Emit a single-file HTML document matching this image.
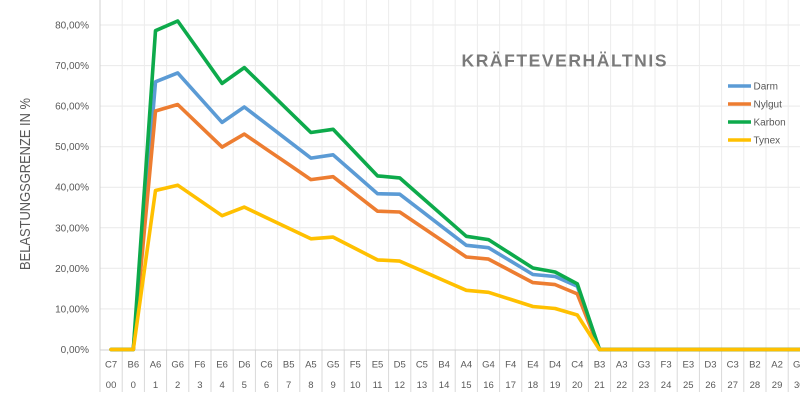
<!DOCTYPE html>
<html><head><meta charset="utf-8"><style>
html,body{margin:0;padding:0;background:#fff;}
svg{display:block;}
text{font-family:"Liberation Sans",Arial,sans-serif;fill:#595959;}
</style></head><body>
<svg width="800" height="403" viewBox="0 0 800 403" xmlns="http://www.w3.org/2000/svg">
<rect width="800" height="403" fill="#fff"/>
<g stroke="#e9e9e9" stroke-width="1">
<line x1="100" y1="308.9" x2="800" y2="308.9"/>
<line x1="100" y1="268.3" x2="800" y2="268.3"/>
<line x1="100" y1="227.8" x2="800" y2="227.8"/>
<line x1="100" y1="187.2" x2="800" y2="187.2"/>
<line x1="100" y1="146.7" x2="800" y2="146.7"/>
<line x1="100" y1="106.1" x2="800" y2="106.1"/>
<line x1="100" y1="65.6" x2="800" y2="65.6"/>
<line x1="100" y1="25" x2="800" y2="25"/>
</g>
<g stroke="#ececec" stroke-width="1">
<line x1="122.2" y1="0" x2="122.2" y2="350"/><line x1="144.4" y1="0" x2="144.4" y2="350"/><line x1="166.6" y1="0" x2="166.6" y2="350"/><line x1="188.8" y1="0" x2="188.8" y2="350"/><line x1="211" y1="0" x2="211" y2="350"/><line x1="233.2" y1="0" x2="233.2" y2="350"/><line x1="255.4" y1="0" x2="255.4" y2="350"/><line x1="277.6" y1="0" x2="277.6" y2="350"/><line x1="299.8" y1="0" x2="299.8" y2="350"/><line x1="322" y1="0" x2="322" y2="350"/><line x1="344.2" y1="0" x2="344.2" y2="350"/><line x1="366.4" y1="0" x2="366.4" y2="350"/><line x1="388.6" y1="0" x2="388.6" y2="350"/><line x1="410.8" y1="0" x2="410.8" y2="350"/><line x1="433" y1="0" x2="433" y2="350"/><line x1="455.2" y1="0" x2="455.2" y2="350"/><line x1="477.4" y1="0" x2="477.4" y2="350"/><line x1="499.6" y1="0" x2="499.6" y2="350"/><line x1="521.8" y1="0" x2="521.8" y2="350"/><line x1="544" y1="0" x2="544" y2="350"/><line x1="566.2" y1="0" x2="566.2" y2="350"/><line x1="588.4" y1="0" x2="588.4" y2="350"/><line x1="610.6" y1="0" x2="610.6" y2="350"/><line x1="632.8" y1="0" x2="632.8" y2="350"/><line x1="655" y1="0" x2="655" y2="350"/><line x1="677.2" y1="0" x2="677.2" y2="350"/><line x1="699.4" y1="0" x2="699.4" y2="350"/><line x1="721.6" y1="0" x2="721.6" y2="350"/><line x1="743.8" y1="0" x2="743.8" y2="350"/><line x1="766" y1="0" x2="766" y2="350"/><line x1="788.2" y1="0" x2="788.2" y2="350"/>
</g>
<g stroke="#d9d9d9" stroke-width="1">
<line x1="100" y1="350" x2="100" y2="392"/><line x1="122.2" y1="350" x2="122.2" y2="392"/><line x1="144.4" y1="350" x2="144.4" y2="392"/><line x1="166.6" y1="350" x2="166.6" y2="392"/><line x1="188.8" y1="350" x2="188.8" y2="392"/><line x1="211" y1="350" x2="211" y2="392"/><line x1="233.2" y1="350" x2="233.2" y2="392"/><line x1="255.4" y1="350" x2="255.4" y2="392"/><line x1="277.6" y1="350" x2="277.6" y2="392"/><line x1="299.8" y1="350" x2="299.8" y2="392"/><line x1="322" y1="350" x2="322" y2="392"/><line x1="344.2" y1="350" x2="344.2" y2="392"/><line x1="366.4" y1="350" x2="366.4" y2="392"/><line x1="388.6" y1="350" x2="388.6" y2="392"/><line x1="410.8" y1="350" x2="410.8" y2="392"/><line x1="433" y1="350" x2="433" y2="392"/><line x1="455.2" y1="350" x2="455.2" y2="392"/><line x1="477.4" y1="350" x2="477.4" y2="392"/><line x1="499.6" y1="350" x2="499.6" y2="392"/><line x1="521.8" y1="350" x2="521.8" y2="392"/><line x1="544" y1="350" x2="544" y2="392"/><line x1="566.2" y1="350" x2="566.2" y2="392"/><line x1="588.4" y1="350" x2="588.4" y2="392"/><line x1="610.6" y1="350" x2="610.6" y2="392"/><line x1="632.8" y1="350" x2="632.8" y2="392"/><line x1="655" y1="350" x2="655" y2="392"/><line x1="677.2" y1="350" x2="677.2" y2="392"/><line x1="699.4" y1="350" x2="699.4" y2="392"/><line x1="721.6" y1="350" x2="721.6" y2="392"/><line x1="743.8" y1="350" x2="743.8" y2="392"/><line x1="766" y1="350" x2="766" y2="392"/><line x1="788.2" y1="350" x2="788.2" y2="392"/>
</g>
<line x1="100" y1="0" x2="100" y2="350" stroke="#d0d0d0" stroke-width="1"/>
<line x1="100" y1="350" x2="800" y2="350" stroke="#d0d0d0" stroke-width="1"/>

<g font-size="10" text-anchor="end">
<text x="89" y="353">0,00%</text>
<text x="89" y="312.4">10,00%</text>
<text x="89" y="271.8">20,00%</text>
<text x="89" y="231.3">30,00%</text>
<text x="89" y="190.7">40,00%</text>
<text x="89" y="150.2">50,00%</text>
<text x="89" y="109.6">60,00%</text>
<text x="89" y="69.1">70,00%</text>
<text x="89" y="28.5">80,00%</text>
</g>

<text transform="translate(30,184) rotate(-90)" font-size="15" text-anchor="middle" textLength="172" lengthAdjust="spacingAndGlyphs">BELASTUNGSGRENZE IN %</text>

<g font-size="9.5" text-anchor="middle">
<text x="111.1" y="367.5">C7</text><text x="133.3" y="367.5">B6</text><text x="155.5" y="367.5">A6</text><text x="177.7" y="367.5">G6</text><text x="199.9" y="367.5">F6</text><text x="222.1" y="367.5">E6</text><text x="244.3" y="367.5">D6</text><text x="266.5" y="367.5">C6</text><text x="288.7" y="367.5">B5</text><text x="310.9" y="367.5">A5</text><text x="333.1" y="367.5">G5</text><text x="355.3" y="367.5">F5</text><text x="377.5" y="367.5">E5</text><text x="399.7" y="367.5">D5</text><text x="421.9" y="367.5">C5</text><text x="444.1" y="367.5">B4</text><text x="466.3" y="367.5">A4</text><text x="488.5" y="367.5">G4</text><text x="510.7" y="367.5">F4</text><text x="532.9" y="367.5">E4</text><text x="555.1" y="367.5">D4</text><text x="577.3" y="367.5">C4</text><text x="599.5" y="367.5">B3</text><text x="621.7" y="367.5">A3</text><text x="643.9" y="367.5">G3</text><text x="666.1" y="367.5">F3</text><text x="688.3" y="367.5">E3</text><text x="710.5" y="367.5">D3</text><text x="732.7" y="367.5">C3</text><text x="754.9" y="367.5">B2</text><text x="777.1" y="367.5">A2</text><text x="799.3" y="367.5">G2</text>
</g>
<g font-size="9.5" text-anchor="middle">
<text x="111.1" y="388">00</text><text x="133.3" y="388">0</text><text x="155.5" y="388">1</text><text x="177.7" y="388">2</text><text x="199.9" y="388">3</text><text x="222.1" y="388">4</text><text x="244.3" y="388">5</text><text x="266.5" y="388">6</text><text x="288.7" y="388">7</text><text x="310.9" y="388">8</text><text x="333.1" y="388">9</text><text x="355.3" y="388">10</text><text x="377.5" y="388">11</text><text x="399.7" y="388">12</text><text x="421.9" y="388">13</text><text x="444.1" y="388">14</text><text x="466.3" y="388">15</text><text x="488.5" y="388">16</text><text x="510.7" y="388">17</text><text x="532.9" y="388">18</text><text x="555.1" y="388">19</text><text x="577.3" y="388">20</text><text x="599.5" y="388">21</text><text x="621.7" y="388">22</text><text x="643.9" y="388">23</text><text x="666.1" y="388">24</text><text x="688.3" y="388">25</text><text x="710.5" y="388">26</text><text x="732.7" y="388">27</text><text x="754.9" y="388">28</text><text x="777.1" y="388">29</text><text x="799.3" y="388">30</text>
</g>

<g fill="none" stroke-width="3.6" stroke-linejoin="round" stroke-linecap="round">
<polyline stroke="#5B9BD5" points="111.1,349.5 133.3,349.5 155.5,81.8 177.7,72.9 199.9,97.65 222.1,122.4 244.3,107 266.5,124 288.7,141.1 310.9,158.1 333.1,154.8 355.3,174.25 377.5,193.7 399.7,194.2 421.9,211.2 444.1,228.3 466.3,245.3 488.5,247.7 510.7,261.1 532.9,274.5 555.1,276.5 577.3,286.2 599.5,349.5 799.3,349.5"/>
<polyline stroke="#ED7D31" points="111.1,349.5 133.3,349.5 155.5,111 177.7,104.5 199.9,125.8 222.1,147.1 244.3,134.1 266.5,149.3 288.7,164.4 310.9,179.6 333.1,176.7 355.3,193.95 377.5,211.2 399.7,212 421.9,227 444.1,242 466.3,257 488.5,259.1 510.7,270.85 532.9,282.6 555.1,284.6 577.3,293.9 599.5,349.5 799.3,349.5"/>
<polyline stroke="#0DAA4B" points="111.1,349.5 133.3,349.5 155.5,30.7 177.7,21 199.9,52.2 222.1,83.4 244.3,67.6 266.5,89.2 288.7,110.9 310.9,132.5 333.1,129.3 355.3,152.6 377.5,175.9 399.7,177.9 421.9,197.4 444.1,216.8 466.3,236.3 488.5,239.6 510.7,253.8 532.9,268 555.1,272 577.3,283.8 599.5,349.5 799.3,349.5"/>
<polyline stroke="#FFC000" points="111.1,349.5 133.3,349.5 155.5,190.5 177.7,185.2 199.9,200.45 222.1,215.7 244.3,207.1 266.5,217.7 288.7,228.2 310.9,238.8 333.1,237.1 355.3,248.5 377.5,259.9 399.7,261.1 421.9,270.8 444.1,280.6 466.3,290.3 488.5,292.3 510.7,299.4 532.9,306.5 555.1,308.5 577.3,315 599.5,349.5 805,349.5"/>
</g>

<text x="461.5" y="66.7" font-size="17.5" font-weight="bold" style="fill:#7a7a7a" textLength="205" lengthAdjust="spacing">KRÄFTEVERHÄLTNIS</text>

<g stroke-width="3.6">
<line x1="728" y1="86" x2="751" y2="86" stroke="#5B9BD5"/>
<line x1="728" y1="104" x2="751" y2="104" stroke="#ED7D31"/>
<line x1="728" y1="122" x2="751" y2="122" stroke="#0DAA4B"/>
<line x1="728" y1="140" x2="751" y2="140" stroke="#FFC000"/>
</g>
<g font-size="10">
<text x="753.5" y="89.5">Darm</text>
<text x="753.5" y="107.5">Nylgut</text>
<text x="753.5" y="125.5">Karbon</text>
<text x="753.5" y="143.5">Tynex</text>
</g>
</svg>
</body></html>
